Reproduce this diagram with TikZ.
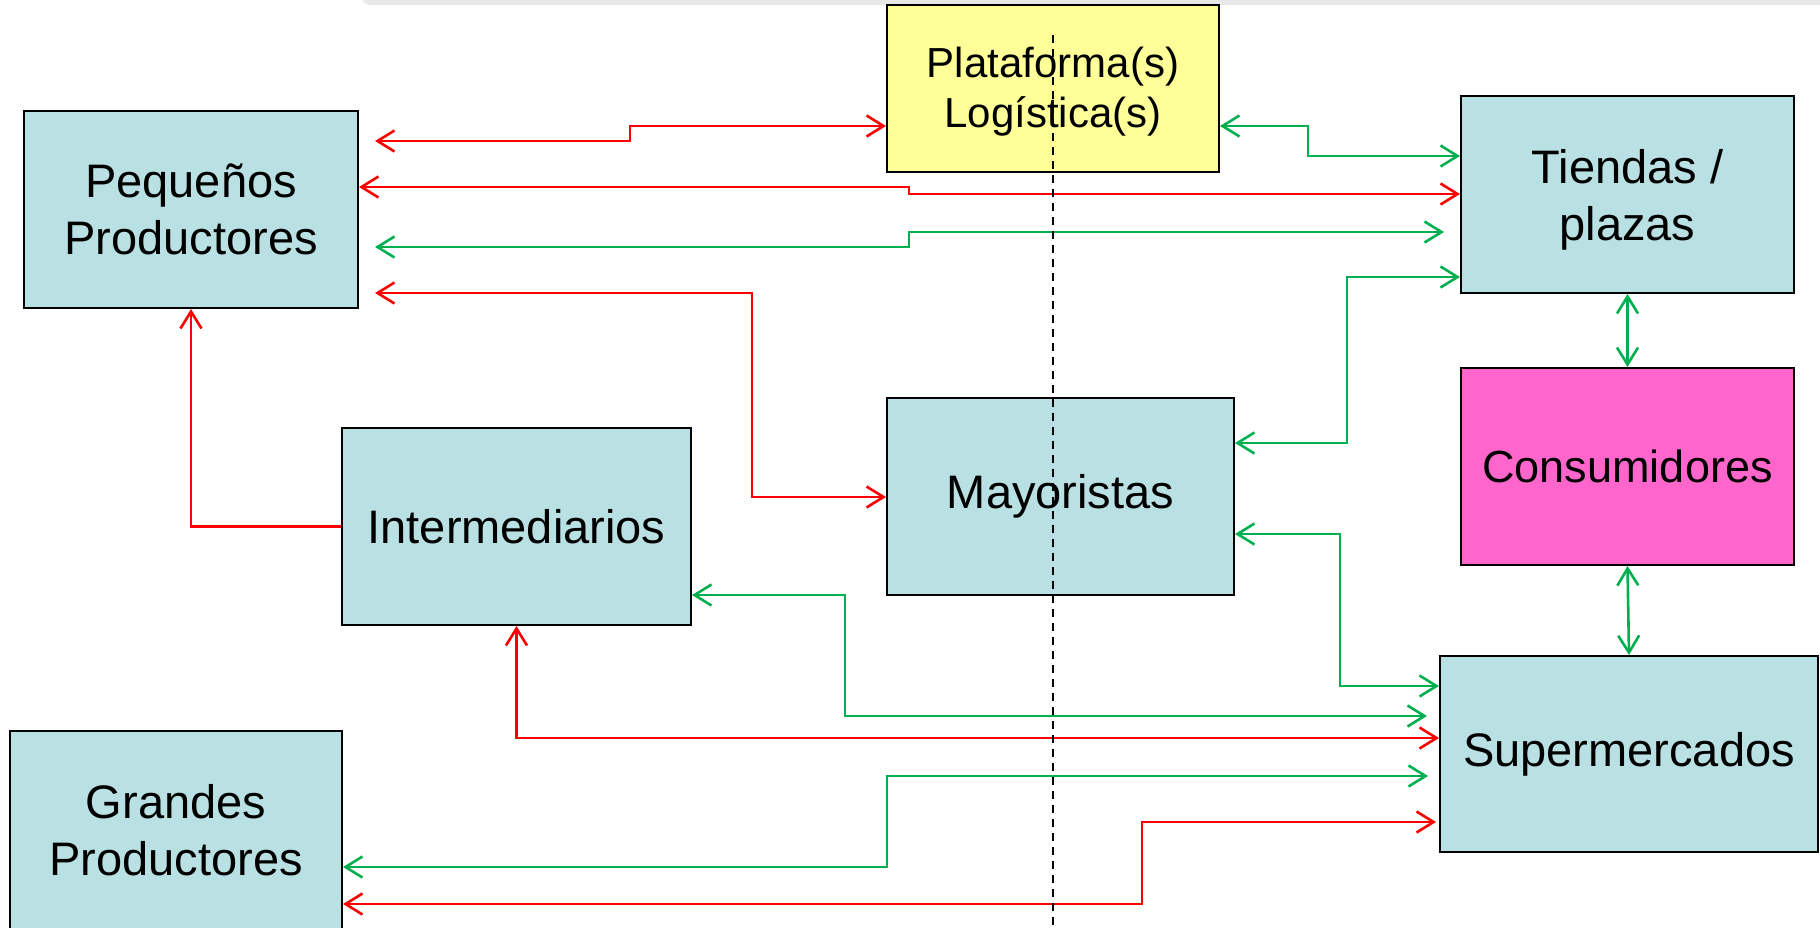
\documentclass[tikz,border=0pt]{standalone}
\usepackage{fontspec}
\setmainfont{Liberation Sans}
\usetikzlibrary{arrows.meta}
\definecolor{boxblue}{RGB}{185,224,227}
\definecolor{boxyellow}{RGB}{255,255,153}
\definecolor{boxpink}{RGB}{255,102,204}
\definecolor{flowred}{RGB}{255,0,0}
\definecolor{flowgreen}{RGB}{0,176,80}
\definecolor{bargray}{RGB}{232,232,232}
\tikzset{
  actor/.style={draw=black, line width=2pt, rectangle, inner sep=0pt, align=center,
    font=\fontsize{47}{57}\selectfont},
  flow/.style={line width=2.6pt},
  rd/.style={flow, draw=flowred},
  gn/.style={flow, draw=flowgreen},
  both/.style={{Straight Barb[length=17pt,width=21pt]}-{Straight Barb[length=17pt,width=21pt]}},
  toend/.style={-{Straight Barb[length=17pt,width=21pt]}},
}
\begin{document}
\begin{tikzpicture}[x=1pt,y=-1pt]
\useasboundingbox (0,0) rectangle (1820,927);
\clip (0,0) rectangle (1820,927);

% strip along the top edge
\fill[bargray, rounded corners=8pt] (362,-20) rectangle (1840,5);

% actors
\node[actor, fill=boxblue, minimum width=334pt, minimum height=197pt] (peq) at (191,209.5) {Pequeños\\Productores};
\node[actor, fill=boxyellow, minimum width=332pt, minimum height=167pt] (plat) at (1053,88.5) {};
\node[font=\fontsize{42}{50}\selectfont, align=center, inner sep=0pt] (platlbl) at (1053,92) {Plataforma(s)\\Logística(s)};
\node[actor, fill=boxblue, minimum width=333pt, minimum height=197pt] (tie) at (1627.5,194.5) {};
\node[font=\fontsize{47}{57}\selectfont, align=center, inner sep=0pt] (tielbl) at (1627.5,200) {Tiendas /\\plazas};
\node[actor, fill=boxpink, minimum width=333pt, minimum height=197pt, font=\fontsize{45}{54}\selectfont] (con) at (1627.5,466.5) {Consumidores};
\node[actor, fill=boxblue, minimum width=347pt, minimum height=197pt] (may) at (1060.5,496.5) {Mayoristas};
\node[actor, fill=boxblue, minimum width=349pt, minimum height=197pt] (int) at (516.5,526.5) {Intermediarios};
\node[actor, fill=boxblue, minimum width=378pt, minimum height=196pt] (sup) at (1629,754) {Supermercados};
\node[actor, fill=boxblue, minimum width=332pt, minimum height=198pt] (gra) at (176,830) {Grandes\\Productores};

% flows from the small producers
\draw[rd, both] ([xshift=16pt]peq.east |- 0,141) -| (630,126) -- (plat.west |- 0,126);
\draw[rd, both] (peq.east |- 0,187) -| (909,194) -- (tie.west |- 0,194);
\draw[gn, both] ([xshift=16pt]peq.east |- 0,247) -| (909,232) -- ([xshift=-16pt]tie.west |- 0,232);
\draw[rd, both] ([xshift=16pt]peq.east |- 0,293) -| (752,497) -- (may.west |- 0,497);
\draw[rd, toend] (int.west) -| (peq.south);

% flows towards shops and consumers
\draw[gn, both] (plat.east |- 0,126) -| (1308,156) -- (tie.west |- 0,156);
\draw[gn, both] (may.east |- 0,443) -| (1347,277) -- (tie.west |- 0,277);
\draw[gn, both] (tie.south) -- (con.north);
\draw[gn, both] (con.south) -- (sup.north);

% flows towards supermarkets
\draw[gn, both] (may.east |- 0,534) -| (1340,686) -- (sup.west |- 0,686);
\draw[gn, both] (int.east |- 0,595) -| (845,716) -- ([xshift=-12pt]sup.west |- 0,716);
\draw[rd, both] (int.south) |- (sup.west |- 0,738);
\draw[gn, both] (gra.east |- 0,867) -| (887,776) -- ([xshift=-11pt]sup.west |- 0,776);
\draw[rd, both] (gra.east |- 0,904) -| (1142,822) -- ([xshift=-3pt]sup.west |- 0,822);

% dividing line
\coordinate (divtop) at (plat.center |- 0,35);
\coordinate (divbot) at (plat.center |- 0,927);
\draw[black, line width=1.7pt, dash pattern=on 8pt off 6pt] (divtop) -- (divbot);
\end{tikzpicture}
\end{document}
